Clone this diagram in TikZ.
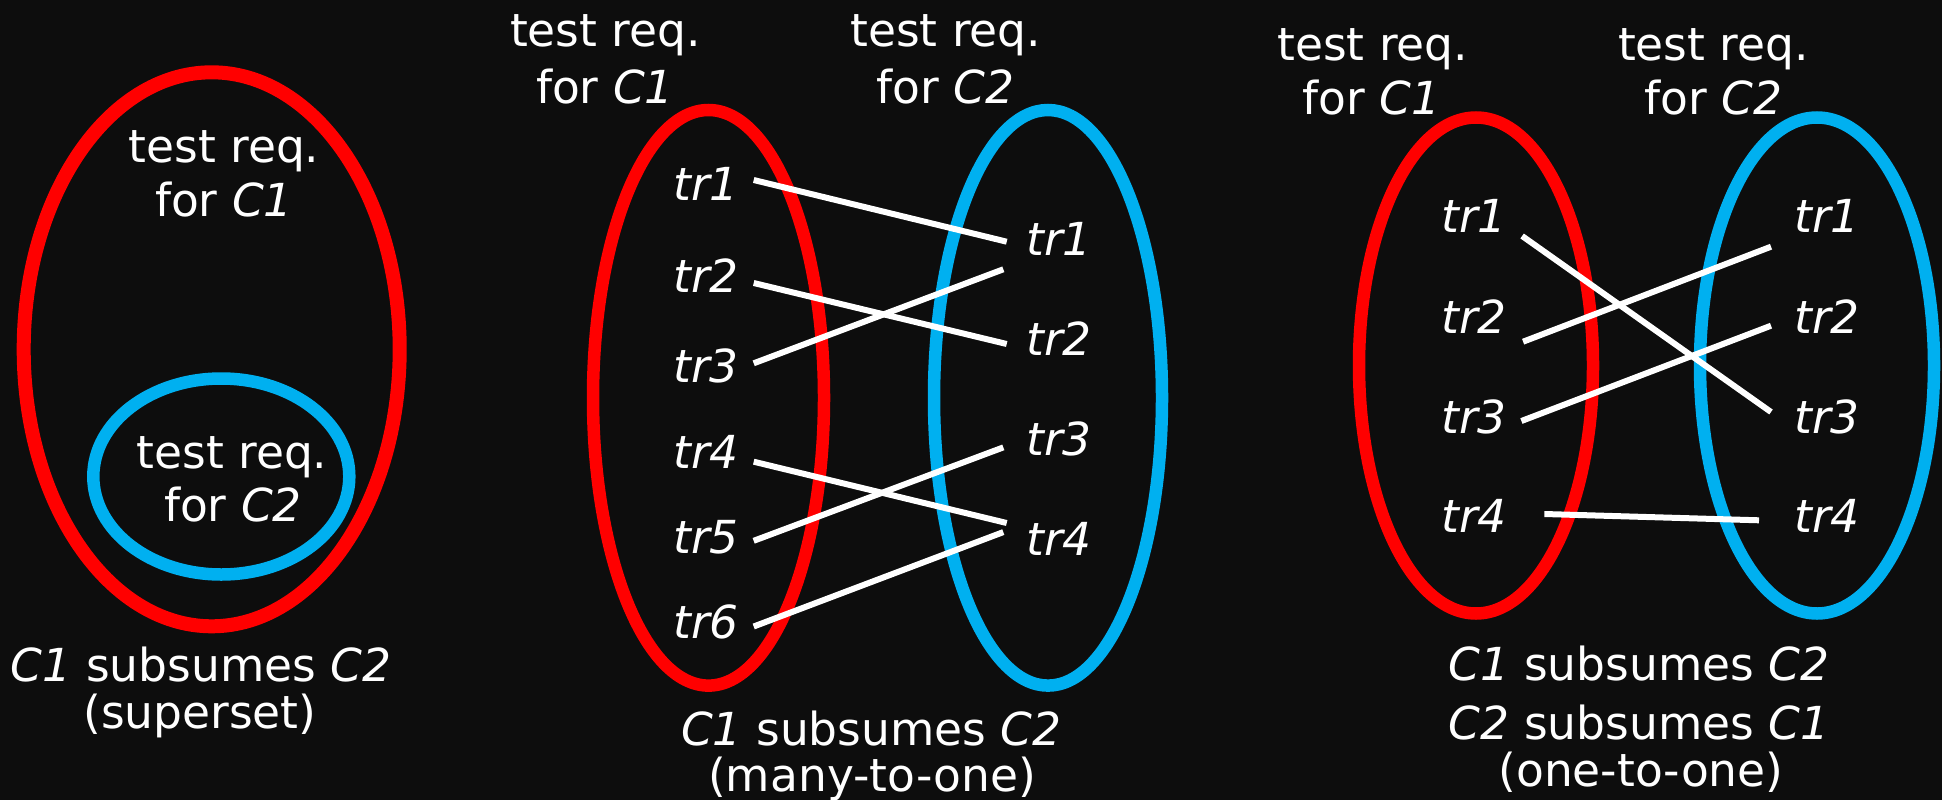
\documentclass[tikz,border=0pt]{standalone}
\usepackage{fontspec}
\setmainfont{DejaVu Sans}
\usetikzlibrary{calc}
\definecolor{setred}{RGB}{255,0,0}
\definecolor{setblue}{RGB}{0,176,240}
\definecolor{bg}{RGB}{13,13,13}
\tikzset{
  txt/.style={text=white, inner sep=0pt, anchor=base,
    font=\fontsize{45.5}{54}\selectfont},
  trl/.style={txt, anchor=base west, font=\fontsize{45.5}{54}\selectfont\itshape},
  redset/.style={draw=setred, line width=12.5pt},
  blueset/.style={draw=setblue, line width=12.5pt},
  link/.style={draw=white, line width=6pt}
}
\begin{document}
\begin{tikzpicture}[x=1pt,y=-1pt]
\fill[bg] (0,0) rectangle (1942,800);
\useasboundingbox (0,0) rectangle (1942,800);

% ---------- superset ----------
\draw[redset, line width=14pt] (211.7,349.3) ellipse [x radius=188, y radius=277];
\draw[blueset] (221.3,476.5) ellipse [x radius=128, y radius=98];
\node[txt] (sa1) at (224,162) {test req.};
\node[txt] (sa2) at (224,216) {for \textit{C1}};
\node[txt] (sb1) at (232,468) {test req.};
\node[txt] (sb2) at (233,521) {for \textit{C2}};
\node[txt] (sc1) at (201,681) {\textit{C1} subsumes \textit{C2}};
\node[txt] (sc2) at (200,728) {(superset)};

% ---------- many-to-one ----------
\draw[redset] (708.5,397.8) ellipse [x radius=115.5, y radius=287.8];
\draw[blueset] (1048,397.8) ellipse [x radius=114, y radius=287.8];
\node[txt] (mh1) at (605.5,46.7) {test req.};
\node[txt] (mh2) at (605,103.3) {for \textit{C1}};
\node[txt] (mh3) at (945.8,46.7) {test req.};
\node[txt] (mh4) at (945.5,103.3) {for \textit{C2}};
\node[trl] (ml1) at (673,200.5) {tr1};
\node[trl] (ml2) at (673,292) {tr2};
\node[trl] (ml3) at (673,382.5) {tr3};
\node[trl] (ml4) at (673,468.5) {tr4};
\node[trl] (ml5) at (673,553.5) {tr5};
\node[trl] (ml6) at (673,638) {tr6};
\node[trl] (mr1) at (1026,255) {tr1};
\node[trl] (mr2) at (1026,355) {tr2};
\node[trl] (mr3) at (1026,455.5) {tr3};
\node[trl] (mr4) at (1026,555) {tr4};
\draw[link] ($(ml1.base east)+(14.8,-20.5)$) -- ($(mr1.base west)+(-19.3,-13.3)$);
\draw[link] ($(ml2.base east)+(14.8,-9)$) -- ($(mr2.base west)+(-19.3,-11)$);
\draw[link] ($(ml3.base east)+(14.8,-19.2)$) -- ($(mr1.base west)+(-22.7,14.3)$);
\draw[link] ($(ml4.base east)+(14.8,-6.8)$) -- ($(mr4.base west)+(-19.3,-32)$);
\draw[link] ($(ml5.base east)+(14.8,-12.7)$) -- ($(mr3.base west)+(-22.7,-8.1)$);
\draw[link] ($(ml6.base east)+(14.8,-11.5)$) -- ($(mr4.base west)+(-22.7,-22.9)$);
\node[txt] (mc1) at (871.3,745) {\textit{C1} subsumes \textit{C2}};
\node[txt] (mc2) at (872,791.7) {(many-to-one)};

% ---------- one-to-one ----------
\draw[redset] (1476,365.5) ellipse [x radius=117, y radius=248];
\draw[blueset] (1817,365.5) ellipse [x radius=117, y radius=248];
\node[txt] (oh1) at (1372.8,60) {test req.};
\node[txt] (oh2) at (1371.7,114) {for \textit{C1}};
\node[txt] (oh3) at (1713.5,60) {test req.};
\node[txt] (oh4) at (1713.6,114) {for \textit{C2}};
\node[trl] (ol1) at (1441,232) {tr1};
\node[trl] (ol2) at (1441,333) {tr2};
\node[trl] (ol3) at (1441,433) {tr3};
\node[trl] (ol4) at (1441,532) {tr4};
\node[trl] (or1) at (1794,232) {tr1};
\node[trl] (or2) at (1794,333) {tr2};
\node[trl] (or3) at (1794,433) {tr3};
\node[trl] (or4) at (1794,532) {tr4};
\draw[link] ($(ol1.base east)+(15.2,4)$) -- ($(or3.base west)+(-23,-21)$);
\draw[link] ($(ol2.base east)+(16.2,8.7)$) -- ($(or1.base west)+(-23,14.7)$);
\draw[link] ($(ol3.base east)+(14.5,-12)$) -- ($(or2.base west)+(-23,-7.3)$);
\draw[link] ($(ol4.base east)+(37.5,-18)$) -- ($(or4.base west)+(-35,-11.7)$);
\node[txt] (oc1) at (1639,680.7) {\textit{C1} subsumes \textit{C2}};
\node[txt] (oc2) at (1639,739) {\textit{C2} subsumes \textit{C1}};
\node[txt] (oc3) at (1641,786.7) {(one-to-one)};
\end{tikzpicture}
\end{document}
